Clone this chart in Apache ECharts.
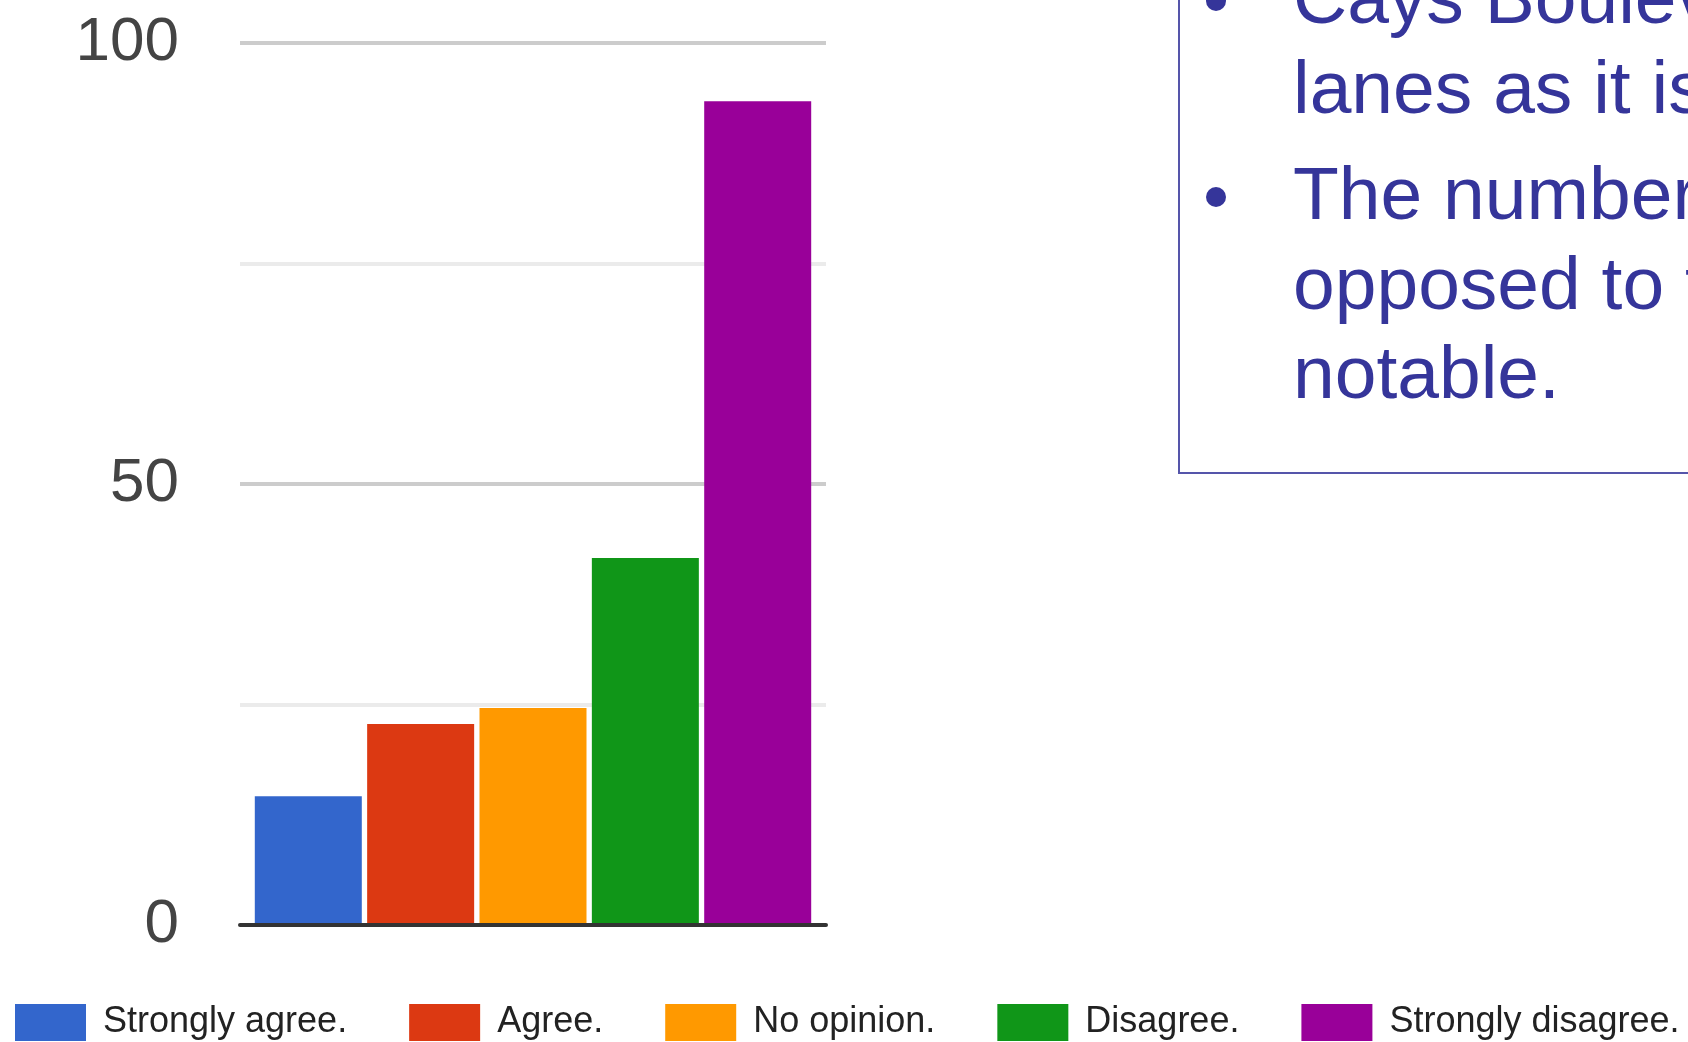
<!DOCTYPE html>
<html>
<head>
<meta charset="utf-8">
<title>Survey responses</title>
<script src="https://cdn.jsdelivr.net/npm/echarts@6/dist/echarts.min.js"></script>
<style>
  html, body { margin: 0; padding: 0; background: #fff; }
  #chart { width: 1688px; height: 1042px; }
</style>
</head>
<body>
<div id="chart"></div>
<script>
const categories = ['Strongly agree.', 'Agree.', 'No opinion.', 'Disagree.', 'Strongly disagree.']
const counts = [14.6, 22.8, 24.6, 41.6, 93.4]
const colors = ['#3366cc', '#dc3912', '#ff9900', '#109618', '#990099']
const yTicks = [0, 50, 100]
const noteLines = ['Cays Boulevard', 'lanes as it is', 'The number of', 'opposed to the', 'notable.']

const chart = echarts.init(document.getElementById('chart'))

// side note box, partly cut off by the right edge
const noteColor = '#35359a'
const baselines = [27, 117, 223, 313, 402]
const noteGraphics = [
  {
    type: 'rect',
    shape: { x: 1179, y: -10, width: 600, height: 483 },
    style: { fill: 'none', stroke: '#5555aa', lineWidth: 2 }
  },
  { type: 'circle', shape: { cx: 1216, cy: 1, r: 10 }, style: { fill: noteColor } },
  { type: 'circle', shape: { cx: 1216, cy: 197, r: 10 }, style: { fill: noteColor } }
]
noteLines.forEach((line, i) => {
  noteGraphics.push({
    type: 'text',
    x: 1293,
    y: baselines[i] - 25,
    style: {
      text: line,
      font: '75px "Liberation Sans", Arial, sans-serif',
      fill: noteColor,
      verticalAlign: 'middle'
    }
  })
})

const option = {
  animation: false,
  backgroundColor: '#fff',
  grid: { left: 240, right: 862, top: 43, bottom: 117 },
  legend: {
    data: categories,
    left: 15,
    top: 1004,
    width: 1673,
    padding: 0,
    icon: 'rect',
    itemWidth: 71,
    itemHeight: 37,
    itemGap: 62,
    selectedMode: false,
    textStyle: {
      fontSize: 36,
      color: '#222',
      fontFamily: '"Liberation Sans", Arial, sans-serif',
      padding: [0, 0, 0, 12]
    }
  },
  xAxis: {
    type: 'category',
    data: ['Responses'],
    z: 5,
    axisLine: { lineStyle: { color: '#333', width: 4 } },
    axisTick: { show: false },
    axisLabel: { show: false }
  },
  yAxis: {
    type: 'value',
    min: 0,
    max: 100,
    interval: 25,
    axisLine: { show: false },
    axisTick: { show: false },
    axisLabel: {
      margin: 61,
      fontSize: 62,
      color: '#444',
      fontFamily: '"Liberation Sans", Arial, sans-serif',
      padding: [0, 0, 14, 0],
      formatter: v => (yTicks.includes(v) ? String(v) : '')
    },
    splitLine: {
      lineStyle: {
        width: 4,
        color: ['#333', '#ebebeb', '#cccccc', '#ebebeb', '#cccccc']
      }
    }
  },
  series: categories.map((name, i) => ({
    name: name,
    type: 'bar',
    data: [counts[i]],
    barWidth: 107,
    barGap: '5%',
    itemStyle: { color: colors[i] }
  })),
  graphic: noteGraphics
}

chart.setOption(option)
</script>
</body>
</html>
